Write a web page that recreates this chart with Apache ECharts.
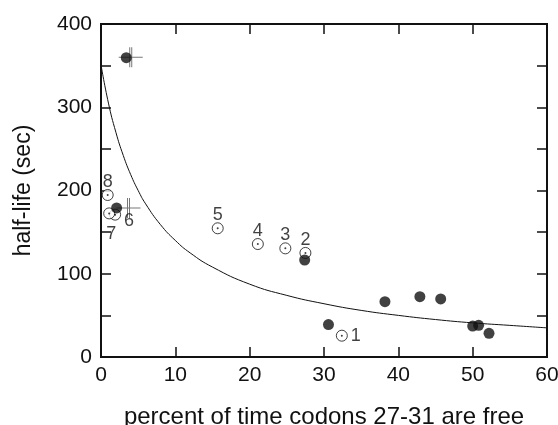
<!DOCTYPE html>
<html>
<head>
<meta charset="utf-8">
<script src="https://cdn.jsdelivr.net/npm/echarts@6/dist/echarts.min.js"></script>
<style>
  html, body { margin: 0; padding: 0; background: #fff; }
</style>
</head>
<body>
<div id="chart" style="width: 558px;height: 425px"></div>
<script>
// numbered open circles (x = % free, y = half-life)
var openLabels = ['1', '2', '3', '4', '5', '6', '7', '8']
var openX = [32.4, 27.5, 24.8, 21.1, 15.7, 1.9, 1.1, 0.9]
var openY = [25.6, 125, 130.5, 135.7, 154.6, 171, 172.5, 194.6]

// filled circles
var filledX = [3.4, 2.1, 27.4, 30.6, 38.2, 42.9, 45.7, 50.0, 50.8, 52.2]
var filledY = [359.5, 179, 116.5, 39, 66.4, 72.4, 69.7, 37.2, 38, 28.4]

// error crosses
var crossX = [4.0, 3.7]
var crossY = [360, 179]

// fitted curve
var curveX = [0, 1, 2, 3, 4, 5, 6, 8, 10, 12, 15, 20, 25, 30, 35, 40, 45, 50, 55, 60]
var curveY = [351, 305, 270, 242, 219, 200, 184, 159, 140, 125, 108, 87.5, 74, 64, 56, 50, 45, 41, 38, 35]

var xTicks = [0, 10, 20, 30, 40, 50, 60]
var yTicks = [0, 100, 200, 300, 400]

var labelPos = {
  '1': 'right', '2': 'top', '3': 'top', '4': 'top', '5': 'top',
  '6': 'right', '7': 'bottom', '8': 'top'
}

function pairs (xs, ys) {
  return xs.map(function (x, i) { return [x, ys[i]] })
}

var ink = '#111'
var font = "'Liberation Sans', Arial, sans-serif"

var openData = openX.map(function (x, i) {
  var pos = labelPos[openLabels[i]]
  var lab = { show: true, position: pos, formatter: openLabels[i], distance: pos === 'top' ? -2 : 3 }
  if (openLabels[i] === '6') lab.offset = [0, 6]
  if (openLabels[i] === '7') lab.offset = [2, 3]
  return { value: [x, openY[i]], label: lab }
})

function axisLine () {
  return { show: true, lineStyle: { color: ink, width: 2 } }
}
function axisTick () {
  return { show: true, inside: true, length: 10, lineStyle: { color: ink, width: 1.5 } }
}

var box = { left: 101, right: 11, top: 24, bottom: 68 }

var option = {
  animation: false,
  grid: [{
    left: box.left, right: box.right, top: box.top, bottom: box.bottom,
    outerBoundsMode: 'none',
    show: true, borderColor: ink, borderWidth: 2, backgroundColor: 'transparent'
  }, {
    // twin grid only for the top and right tick marks
    left: box.left, right: box.right, top: box.top, bottom: box.bottom,
    outerBoundsMode: 'none'
  }],
  xAxis: [{
    gridIndex: 0,
    type: 'value', min: 0, max: 60, interval: 10, position: 'bottom',
    axisLine: axisLine(), axisTick: axisTick(), splitLine: { show: false },
    axisLabel: {
      color: ink, fontSize: 21, fontFamily: font, margin: 8,
      formatter: function (v) { return xTicks.indexOf(v) >= 0 ? String(v) : '' }
    },
    name: 'percent of time codons 27-31 are free', nameLocation: 'middle', nameGap: 48,
    nameTextStyle: { color: ink, fontSize: 24, fontFamily: font }
  }, {
    // shifted range so it is not pulled onto zero; same pixel ticks
    gridIndex: 1,
    type: 'value', min: 100, max: 160, interval: 10, position: 'top',
    axisLine: axisLine(), axisTick: axisTick(), splitLine: { show: false },
    axisLabel: { show: false }
  }],
  yAxis: [{
    gridIndex: 0,
    type: 'value', min: 0, max: 400, interval: 50, position: 'left',
    axisLine: axisLine(), axisTick: axisTick(), splitLine: { show: false },
    axisLabel: {
      color: ink, fontSize: 21, fontFamily: font, margin: 9,
      formatter: function (v) { return yTicks.indexOf(v) >= 0 ? String(v) : '' }
    },
    name: 'half-life (sec)', nameLocation: 'middle', nameGap: 66,
    nameTextStyle: { color: ink, fontSize: 23, fontFamily: font }
  }, {
    gridIndex: 1,
    type: 'value', min: 1000, max: 1400, interval: 50, position: 'right',
    axisLine: axisLine(), axisTick: axisTick(), splitLine: { show: false },
    axisLabel: { show: false }
  }],
  series: [{
    type: 'line',
    data: pairs(curveX, curveY),
    smooth: true,
    showSymbol: false,
    lineStyle: { color: ink, width: 1 },
    z: 1
  }, {
    type: 'scatter',
    data: pairs(crossX, crossY),
    symbol: 'path://M0,9.5h24v1h-24z M10.5,0h1v20h-1z M12.5,0h1v20h-1z',
    symbolSize: [24, 20],
    itemStyle: { color: '#555' },
    z: 2
  }, {
    type: 'scatter',
    data: openData,
    symbol: 'circle',
    symbolSize: 11,
    itemStyle: { color: '#fff', borderColor: ink, borderWidth: 1 },
    label: { color: ink, fontSize: 18, fontFamily: font },
    z: 3
  }, {
    type: 'scatter',
    data: pairs(openX, openY),
    symbol: 'circle',
    symbolSize: 2,
    itemStyle: { color: ink },
    z: 4
  }, {
    type: 'scatter',
    data: pairs(filledX, filledY),
    symbol: 'circle',
    symbolSize: 11,
    itemStyle: { color: '#111' },
    z: 5
  }]
}

var myChart = echarts.init(document.getElementById('chart'))
myChart.setOption(option)
</script>
</body>
</html>
